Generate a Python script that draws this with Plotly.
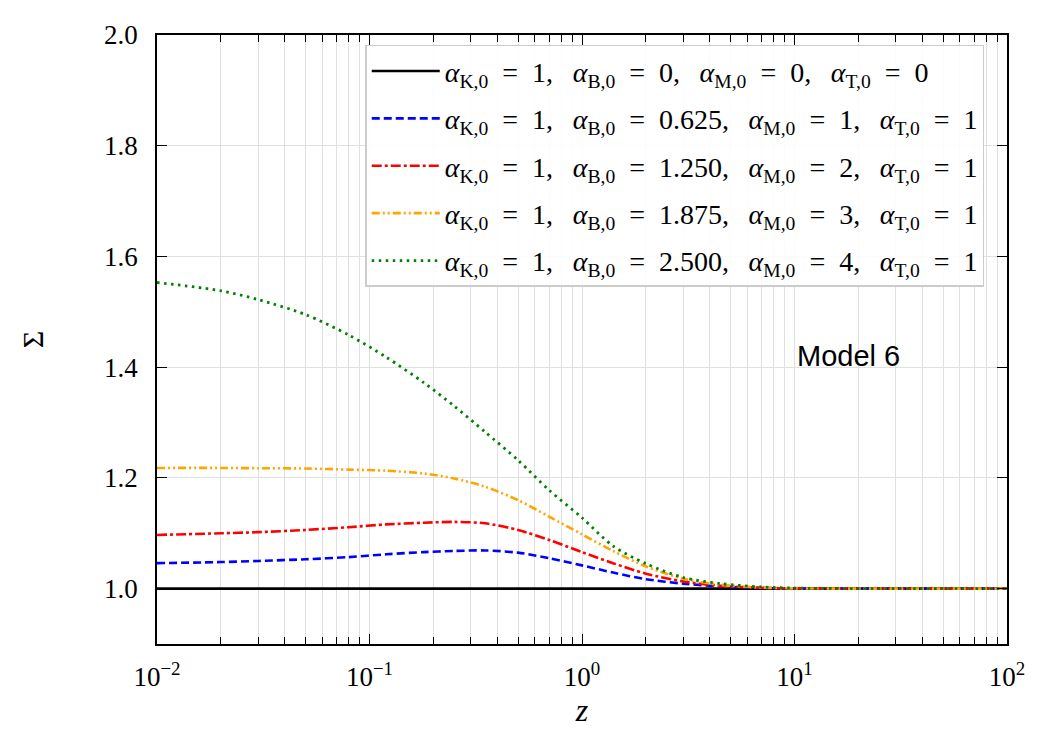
import plotly.graph_objects as go

# ---- data ----
z = [0.01, 0.02, 0.03, 0.05, 0.08, 0.12, 0.18, 0.25, 0.35, 0.5, 0.7,
     1.0, 1.4, 2.0, 3.0, 4.5, 7.0, 10.0, 20.0, 50.0, 100.0]

sigma_black = [1.0] * len(z)
sigma_blue = [1.046, 1.048, 1.050, 1.053, 1.057, 1.062, 1.066, 1.068, 1.069, 1.065, 1.055,
              1.042, 1.029, 1.017, 1.009, 1.004, 1.001, 1.0, 1.0, 1.0, 1.0]
sigma_red = [1.097, 1.100, 1.102, 1.106, 1.111, 1.116, 1.119, 1.1205, 1.118, 1.106, 1.088,
             1.066, 1.046, 1.027, 1.013, 1.005, 1.0015, 1.0005, 1.0, 1.0, 1.0]
sigma_orange = [1.218, 1.218, 1.2175, 1.217, 1.215, 1.213, 1.208, 1.199, 1.184, 1.160, 1.130,
                1.098, 1.068, 1.040, 1.018, 1.007, 1.002, 1.0005, 1.0, 1.0, 1.0]
sigma_green = [1.553, 1.538, 1.522, 1.495, 1.458, 1.418, 1.372, 1.330, 1.283, 1.232, 1.178,
               1.128, 1.077, 1.045, 1.020, 1.009, 1.003, 1.001, 1.0, 1.0, 1.0]

alpha_B = ["0", "0.625", "1.250", "1.875", "2.500"]
alpha_M = ["0", "1", "2", "3", "4"]
alpha_T = ["0", "1", "1", "1", "1"]

x_tickvals = [0.01, 0.1, 1, 10, 100]
x_ticktext = ["10<sup>\u22122</sup>", "10<sup>\u22121</sup>", "10<sup>0</sup>",
              "10<sup>1</sup>", "10<sup>2</sup>"]
y_tickvals = [1.0, 1.2, 1.4, 1.6, 1.8, 2.0]
y_ticktext = ["1.0", "1.2", "1.4", "1.6", "1.8", "2.0"]

series = [sigma_black, sigma_blue, sigma_red, sigma_orange, sigma_green]
colors = ["black", "#0000ff", "#ff0000", "#ffa500", "#008000"]
dashes = ["solid", "8px,4px", "10px,3px,3px,3px", "8px,3px,2px,3px,2px,3px", "2.5px,4.5px"]
widths = [2.6, 2.6, 2.6, 2.6, 2.8]

SERIF = "Liberation Serif, DejaVu Serif, serif"
EQ = "\u2002=\u2002"
SEP = ",\u2002\u2009"


def label(i):
    return ("<i>\u03b1</i><sub>K,0</sub>" + EQ + "1" + SEP +
            "<i>\u03b1</i><sub>B,0</sub>" + EQ + alpha_B[i] + SEP +
            "<i>\u03b1</i><sub>M,0</sub>" + EQ + alpha_M[i] + SEP +
            "<i>\u03b1</i><sub>T,0</sub>" + EQ + alpha_T[i])


fig = go.Figure()
for i, s in enumerate(series):
    fig.add_trace(go.Scatter(
        x=z, y=s, mode="lines", name=label(i), legendgroup="g%d" % i,
        line=dict(color=colors[i], dash=dashes[i], width=widths[i],
                  shape="spline", smoothing=0.8),
    ))

minor_vals = [m * 10 ** e for e in range(-2, 2) for m in range(2, 10)]

fig.update_xaxes(
    type="log", range=[-2, 2],
    tickvals=x_tickvals, ticktext=x_ticktext,
    ticks="inside", ticklen=10, tickwidth=1.2, tickcolor="black",
    showline=True, linecolor="black", linewidth=1.5, mirror="allticks",
    showgrid=True, gridcolor="#e0e0e0", gridwidth=1,
    minor=dict(tickvals=minor_vals, ticks="inside", ticklen=7, tickwidth=1,
               tickcolor="black", showgrid=True, gridcolor="#e0e0e0", gridwidth=1),
    tickfont=dict(family=SERIF, size=27, color="black"),
    ticklabelstandoff=8,
    title=dict(text="<i>z</i>", font=dict(family=SERIF, size=32, color="black"), standoff=4),
    zeroline=False,
)
fig.update_yaxes(
    range=[0.9, 2.0],
    tickvals=y_tickvals, ticktext=y_ticktext,
    ticks="inside", ticklen=10, tickwidth=1.2, tickcolor="black",
    showline=True, linecolor="black", linewidth=1.5, mirror="allticks",
    showgrid=True, gridcolor="#e0e0e0", gridwidth=1,
    tickfont=dict(family=SERIF, size=27, color="black"),
    ticklabelstandoff=12,
    title=dict(text="\u03a3", font=dict(family=SERIF, size=30, color="black"), standoff=52),
    zeroline=False,
)

fig.add_annotation(
    x=1, y=1.4, xref="x", yref="y", text="Model 6", showarrow=False,
    xanchor="left", yanchor="bottom", yshift=-7,
    font=dict(family="Liberation Sans, Arial, sans-serif", size=29, color="black"),
)

fig.update_layout(
    width=1050, height=750,
    margin=dict(l=157, r=43, t=35, b=106),
    paper_bgcolor="white", plot_bgcolor="white",
    showlegend=True,
    legend=dict(
        x=0.245, y=0.984, xanchor="left", yanchor="top",
        bgcolor="rgba(255,255,255,0.9)", bordercolor="#cccccc", borderwidth=1.5,
        font=dict(family=SERIF, size=28, color="black"),
        traceorder="grouped", tracegroupgap=8, itemwidth=68,
    ),
)

fig.write_html("out.html")
